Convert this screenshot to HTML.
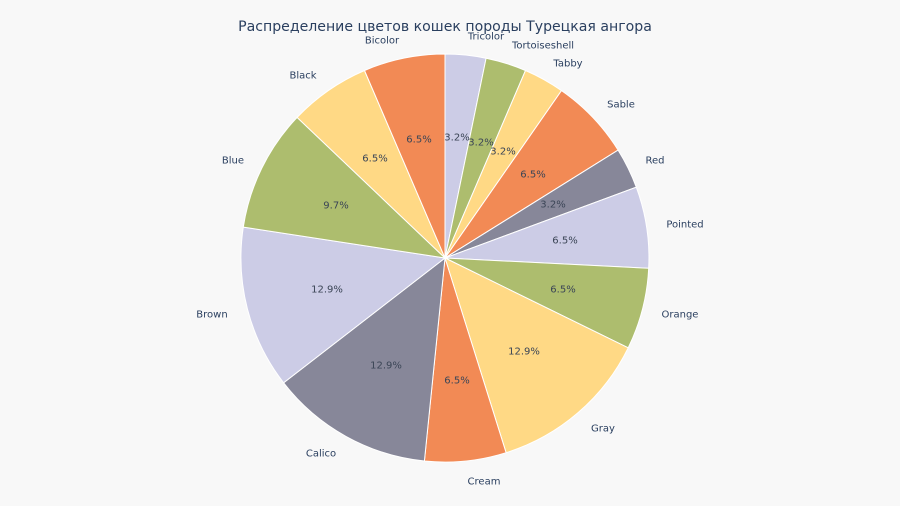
<!DOCTYPE html>
<html><head><meta charset="utf-8"><style>
html,body{margin:0;padding:0;background:#f8f8f8;}
svg{display:block;font-family:"DejaVu Sans","Liberation Sans",sans-serif;}
text{fill:#2a3f5f;font-size:10px;text-anchor:middle;dominant-baseline:central;}
.in{fill:#3b4556;}
</style></head><body>
<svg width="900" height="506" viewBox="0 0 900 506" xmlns="http://www.w3.org/2000/svg">
<rect width="900" height="506" fill="#f8f8f8"/>
<g stroke="#ffffff" stroke-width="1">
<path d="M445,258 L445,54 A204,204 0 0 1 486.1,58.2 Z" fill="#cccce6"/>
<path d="M445,258 L486.1,58.2 A204,204 0 0 1 525.5,70.5 Z" fill="#adbd6e"/>
<path d="M445,258 L525.5,70.5 A204,204 0 0 1 561.5,90.6 Z" fill="#ffd985"/>
<path d="M445,258 L561.5,90.6 A204,204 0 0 1 618.1,150.1 Z" fill="#f28a55"/>
<path d="M445,258 L618.1,150.1 A204,204 0 0 1 636.3,187.2 Z" fill="#878799"/>
<path d="M445,258 L636.3,187.2 A204,204 0 0 1 648.7,268.3 Z" fill="#cccce6"/>
<path d="M445,258 L648.7,268.3 A204,204 0 0 1 628.2,347.8 Z" fill="#adbd6e"/>
<path d="M445,258 L628.2,347.8 A204,204 0 0 1 506.1,452.7 Z" fill="#ffd985"/>
<path d="M445,258 L506.1,452.7 A204,204 0 0 1 424.4,461.0 Z" fill="#f28a55"/>
<path d="M445,258 L424.4,461.0 A204,204 0 0 1 283.6,382.8 Z" fill="#878799"/>
<path d="M445,258 L283.6,382.8 A204,204 0 0 1 243.3,227.1 Z" fill="#cccce6"/>
<path d="M445,258 L243.3,227.1 A204,204 0 0 1 297.1,117.4 Z" fill="#adbd6e"/>
<path d="M445,258 L297.1,117.4 A204,204 0 0 1 364.5,70.5 Z" fill="#ffd985"/>
<path d="M445,258 L364.5,70.5 A204,204 0 0 1 445,54 Z" fill="#f28a55"/>
</g>
<g transform="translate(0,1)">
<text x="445" y="26" style="font-size:14.1px">Распределение цветов кошек породы Турецкая ангора</text>
<text class="in" x="457" y="137">3.2%</text>
<text class="in" x="481" y="142">3.2%</text>
<text class="in" x="503" y="151">3.2%</text>
<text class="in" x="533" y="174">6.5%</text>
<text class="in" x="553" y="204">3.2%</text>
<text class="in" x="565" y="240">6.5%</text>
<text class="in" x="563" y="289">6.5%</text>
<text class="in" x="524" y="351">12.9%</text>
<text class="in" x="457" y="380">6.5%</text>
<text class="in" x="386" y="365">12.9%</text>
<text class="in" x="327" y="289">12.9%</text>
<text class="in" x="336" y="205">9.7%</text>
<text class="in" x="375" y="158">6.5%</text>
<text class="in" x="419" y="139">6.5%</text>
<text x="382" y="40">Bicolor</text>
<text x="486" y="36">Tricolor</text>
<text x="543" y="45">Tortoiseshell</text>
<text x="568" y="63">Tabby</text>
<text x="621" y="104">Sable</text>
<text x="655" y="160">Red</text>
<text x="685" y="224">Pointed</text>
<text x="680" y="314">Orange</text>
<text x="603" y="428">Gray</text>
<text x="484" y="481">Cream</text>
<text x="321" y="453">Calico</text>
<text x="212" y="314">Brown</text>
<text x="233" y="160">Blue</text>
<text x="303" y="75">Black</text>
</g>
</svg>
</body></html>
